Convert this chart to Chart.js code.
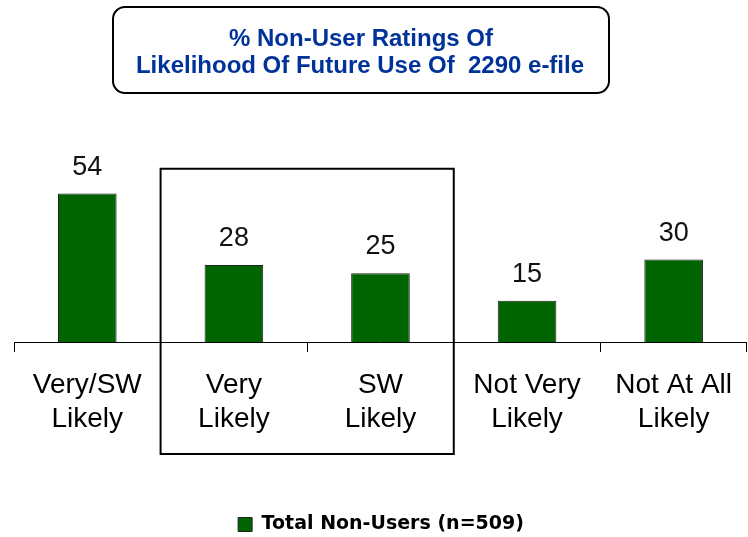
<!DOCTYPE html>
<html>
<head>
<meta charset="utf-8">
<script src="https://cdn.jsdelivr.net/npm/chart.js@4.4.0/dist/chart.umd.min.js"></script>
<style>
  body { margin: 0; background: #fff; }
  #wrap { width: 748px; height: 537px; position: relative; }
</style>
</head>
<body>
<div id="wrap"><canvas id="grafico"></canvas></div>
<script>
// datos del grafico
const categorias = [['Very/SW', 'Likely'], ['Very', 'Likely'], ['SW', 'Likely'], ['Not Very', 'Likely'], ['Not At All', 'Likely']];
const valores = [54, 28, 25, 15, 30];
const serie = 'Total Non-Users (n=509)';
const titulo = ['% Non-User Ratings Of', 'Likelihood Of Future Use Of  2290 e-file'];

const verde = '#006400';
const fuente = "'Liberation Sans', Arial, sans-serif";

// caja del titulo
const tituloPlugin = {
    id: 'tituloCaja',
    afterDraw(chart) {
        const ctx = chart.ctx;
        ctx.save();
        ctx.beginPath();
        ctx.roundRect(113, 7, 496, 86, 12);
        ctx.lineWidth = 2;
        ctx.strokeStyle = '#000';
        ctx.stroke();
        ctx.fillStyle = '#003399';
        ctx.font = 'bold 24px ' + fuente;
        ctx.textAlign = 'center';
        ctx.textBaseline = 'alphabetic';
        ctx.fillText(titulo[0], 361, 46);
        ctx.fillText(titulo[1], 360, 73);
        ctx.restore();
    }
};

// numeros encima de las barras
const etiquetasPlugin = {
    id: 'etiquetas',
    afterDatasetsDraw(chart) {
        const ctx = chart.ctx;
        const meta = chart.getDatasetMeta(0);
        ctx.save();
        ctx.fillStyle = '#111';
        ctx.font = '27px ' + fuente;
        ctx.textAlign = 'center';
        ctx.textBaseline = 'alphabetic';
        meta.data.forEach((bar, i) => {
            ctx.fillText(String(valores[i]), bar.x, bar.y - 19);
        });
        ctx.restore();
    }
};

// recuadro alrededor de Very / SW Likely
const recuadroPlugin = {
    id: 'recuadro',
    afterDraw(chart) {
        const x = chart.scales.x;
        const y = chart.scales.y;
        const izq = (x.getPixelForValue(0) + x.getPixelForValue(1)) / 2;
        const der = (x.getPixelForValue(2) + x.getPixelForValue(3)) / 2;
        const arriba = y.getPixelForValue(63);
        const ctx = chart.ctx;
        ctx.save();
        ctx.lineWidth = 2;
        ctx.strokeStyle = '#000';
        ctx.strokeRect(izq, arriba, der - izq, 454 - arriba);
        ctx.restore();
    }
};

// bajar un poco la leyenda
const leyendaPlugin = {
    id: 'bajarLeyenda',
    afterLayout(chart) {
        if (chart.legend) {
            chart.legend.top += 7;
            chart.legend.bottom += 7;
        }
    }
};

const ctx = document.getElementById('grafico').getContext('2d');
new Chart(ctx, {
    type: 'bar',
    data: {
        labels: categorias,
        datasets: [{
            label: serie,
            data: valores,
            backgroundColor: verde,
            borderColor: '#222',
            borderWidth: 1,
            categoryPercentage: 1,
            barPercentage: 0.4
        }]
    },
    options: {
        responsive: true,
        maintainAspectRatio: false,
        animation: false,
        layout: { padding: { top: 177, left: 14, right: 0, bottom: 0 } },
        plugins: {
            title: { display: false },
            tooltip: { enabled: false },
            legend: {
                display: true,
                position: 'bottom',
                labels: {
                    boxWidth: 14,
                    boxHeight: 14,
                    color: '#000',
                    padding: 2,
                    font: { family: "'DejaVu Sans', sans-serif", size: 19, weight: 'bold' }
                }
            }
        },
        scales: {
            y: { display: false, min: 0, max: 60 },
            x: {
                afterFit(scale) {
                    scale.height = 164; // espacio hasta la leyenda
                },
                border: { display: true, color: '#000', width: 1 },
                grid: { display: true, offset: true, drawOnChartArea: false, drawTicks: true, tickLength: 10, color: '#000' },
                ticks: {
                    color: '#000',
                    padding: 16,
                    maxRotation: 0,
                    autoSkip: false,
                    font: { family: fuente, size: 28, lineHeight: 1.22 }
                }
            }
        }
    },
    plugins: [tituloPlugin, etiquetasPlugin, recuadroPlugin, leyendaPlugin]
});
</script>
</body>
</html>
